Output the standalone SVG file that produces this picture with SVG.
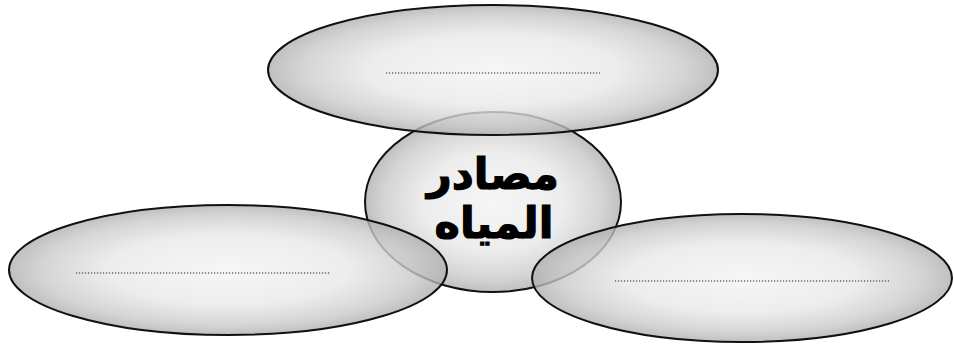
<svg xmlns="http://www.w3.org/2000/svg" width="954" height="345" viewBox="0 0 954 345">
<defs>
<radialGradient id="g" cx="0.5" cy="0.5" r="0.5">
<stop offset="0" stop-color="#f4f4f4"/>
<stop offset="0.55" stop-color="#e8e8e8"/>
<stop offset="0.85" stop-color="#cacaca"/>
<stop offset="1" stop-color="#b0b0b0"/>
</radialGradient>
<style>
.e{fill:url(#g);fill-opacity:0.8;stroke:#111;stroke-width:2}
.d{stroke:#222;stroke-width:1.2;stroke-dasharray:1.2 1.8;fill:none}
.t{font-family:"DejaVu Sans",sans-serif;font-weight:bold;font-size:43px;fill:#000;stroke:#000;stroke-width:1.2;text-anchor:middle}
</style>
</defs>
<rect width="954" height="345" fill="#fff"/>
<g id="center">
<ellipse class="e" cx="493" cy="202" rx="128" ry="90"/>
<text class="t" x="493" y="189" direction="rtl">مصادر</text>
<text class="t" x="494" y="238" direction="rtl">المياه</text>
</g>
<g id="top">
<ellipse class="e" cx="493" cy="70" rx="225" ry="65"/>
<line class="d" x1="386" y1="73" x2="600" y2="73"/>
</g>
<g id="left">
<ellipse class="e" cx="228" cy="270" rx="219" ry="65"/>
<line class="d" x1="76" y1="273" x2="331" y2="273"/>
</g>
<g id="right">
<ellipse class="e" cx="742" cy="278" rx="210" ry="64"/>
<line class="d" x1="615" y1="281" x2="889" y2="281"/>
</g>
<g id="connectors"/>
</svg>
